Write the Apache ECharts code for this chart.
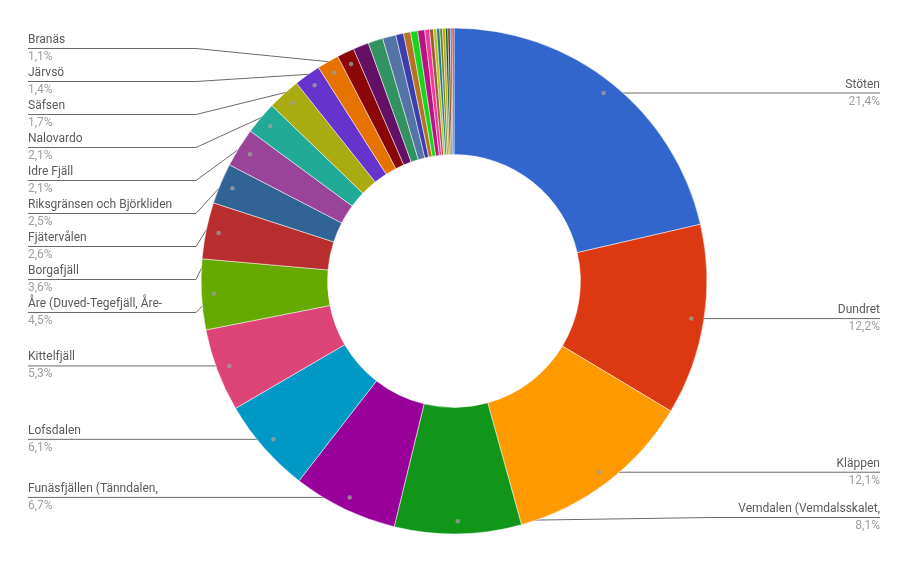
<!DOCTYPE html>
<html>
<head>
<meta charset="utf-8">
<script src="https://cdn.jsdelivr.net/npm/echarts@6/dist/echarts.min.js"></script>
<style>
html, body { margin: 0; padding: 0; background: #fff; }
#main { width: 908px; height: 562px; }
</style>
</head>
<body>
<div id="main"></div>
<script>
// skidorter med etikett (andel i procent)
var skiNames = ['Stöten', 'Dundret', 'Kläppen', 'Vemdalen (Vemdalsskalet,', 'Funäsfjällen (Tänndalen,',
	'Lofsdalen', 'Kittelfjäll', 'Åre (Duved-Tegefjäll, Åre-', 'Borgafjäll', 'Fjätervålen',
	'Riksgränsen och Björkliden', 'Idre Fjäll', 'Nalovardo', 'Säfsen', 'Järvsö', 'Branäs'];
var skiShares = [21.4, 12.2, 12.1, 8.1, 6.7, 6.1, 5.3, 4.5, 3.6, 2.6, 2.5, 2.1, 2.1, 1.7, 1.4, 1.1];
// små skivor utan etikett
var smallShares = [1.0, 0.95, 0.85, 0.5, 0.45, 0.45, 0.45, 0.3, 0.25, 0.2, 0.2, 0.18, 0.18, 0.15, 0.15, 0.12, 0.12];
var sliceColors = ['#3366cc', '#dc3912', '#ff9900', '#109618', '#990099', '#0099c6', '#dd4477', '#66aa00',
	'#b82e2e', '#316395', '#994499', '#22aa99', '#aaaa11', '#6633cc', '#e67300', '#8b0707',
	'#651067', '#329262', '#5574a6', '#3b3eac', '#b77322', '#16d620', '#b91383', '#f4359e',
	'#9c5935', '#a9c413', '#2a778d', '#668d1c', '#bea413', '#0c5922', '#743411'];

var LABEL_GAP = 33;      // avstånd mellan etiketter
var AREA_TOP = 32;       // etikettområdets gränser
var AREA_BOTTOM = 534;

var chart = echarts.init(document.getElementById('main'));

var pieData = [];
skiNames.forEach(function(n, i) {
	pieData.push({ name: n, value: skiShares[i] });
});
smallShares.forEach(function(v, i) {
	pieData.push({
		name: 'Övrigt ' + (i + 1),
		value: v,
		label: { show: false },
		labelLine: { show: false }
	});
});

// punkter där etikettlinjerna börjar
var total = 0;
pieData.forEach(function(d) { total += d.value; });
var dotData = [];
var acc = 0;
skiShares.forEach(function(v) {
	dotData.push([0.95, acc + v / 2]);
	acc += v;
});

var labelInfo = {};
var stackY = null;

var option = {
	color: sliceColors,
	textStyle: { fontFamily: 'Roboto' },
	animation: false,
	polar: { center: ['50%', '50%'], radius: '90%' },
	radiusAxis: { min: 0, max: 1, show: false },
	angleAxis: { min: 0, max: total, startAngle: 90, clockwise: true, show: false },
	series: [{
		type: 'pie',
		center: ['50%', '50%'],
		radius: ['45%', '90%'],
		startAngle: 90,
		clockwise: true,
		data: pieData,
		itemStyle: { borderColor: '#fff', borderWidth: 0.5 },
		label: {
			alignTo: 'edge',
			edgeDistance: 28,
			formatter: function(p) {
				return '{n|' + p.name + '}\n{p|' + p.value.toFixed(1).replace('.', ',') + '%}';
			},
			rich: {
				n: { fontFamily: 'Roboto', fontSize: 12, color: '#5a5a5a', lineHeight: 17 },
				p: { fontFamily: 'Roboto', fontSize: 12, color: '#9e9e9e', lineHeight: 17 }
			}
		},
		labelLine: {
			length: -13,
			length2: 0,
			lineStyle: { color: '#6a6a6a', width: 1 }
		},
		labelLayout: function(params) {
			var pts = params.labelLinePoints;
			if (!pts) return;
			var cx = chart.getWidth() / 2, cy = chart.getHeight() / 2;
			var r = params.labelRect;
			// linjen börjar en bit in i skivan
			var p0 = [cx + (pts[0][0] - cx) * 0.95, cy + (pts[0][1] - cy) * 0.95];
			var isLeft = p0[0] < cx;
			labelInfo[params.dataIndex] = { y: p0[1], left: isLeft };
			var lineY = stackY ? stackY[params.dataIndex] : r.y + r.height / 2;
			var edgeX = isLeft ? r.x : r.x + r.width;
			var bendX = isLeft ? Math.min(edgeX + 168, p0[0]) : Math.max(edgeX - 168, p0[0]);
			var res = { labelLinePoints: [p0, [bendX, lineY], [edgeX, lineY]] };
			if (stackY) res.y = lineY;
			return res;
		}
	}, {
		type: 'scatter',
		coordinateSystem: 'polar',
		data: dotData,
		symbolSize: 4.5,
		itemStyle: { color: '#9e9e9e' },
		silent: true,
		z: 5
	}]
};
chart.setOption(option);

// stapla etiketterna på varje sida så nära sina skivor som möjligt
function stackSide(isLeft) {
	var items = [];
	for (var k in labelInfo) {
		if (labelInfo[k].left === isLeft) items.push({ idx: +k, y: labelInfo[k].y });
	}
	items.sort(function(a, b) { return a.y - b.y; });
	var blocks = [];
	items.forEach(function(it, i) {
		var b = { sum: it.y - LABEL_GAP * i, n: 1 };
		blocks.push(b);
		while (blocks.length > 1) {
			var prev = blocks[blocks.length - 2];
			if (prev.sum / prev.n <= b.sum / b.n) break;
			prev.sum += b.sum;
			prev.n += b.n;
			blocks.pop();
			b = prev;
		}
	});
	var minC = AREA_TOP + LABEL_GAP / 2, maxC = AREA_BOTTOM - LABEL_GAP / 2;
	var ys = [];
	blocks.forEach(function(b) {
		for (var j = 0; j < b.n; j++) ys.push(Math.max(b.sum / b.n, minC) + LABEL_GAP * ys.length);
	});
	for (var i = ys.length - 1; i >= 0; i--) {
		var lim = i === ys.length - 1 ? maxC : ys[i + 1] - LABEL_GAP;
		if (ys[i] > lim) ys[i] = lim;
	}
	items.forEach(function(it, i) { stackY[it.idx] = ys[i]; });
}
stackY = {};
stackSide(true);
stackSide(false);
chart.setOption(option, true);
</script>
</body>
</html>
